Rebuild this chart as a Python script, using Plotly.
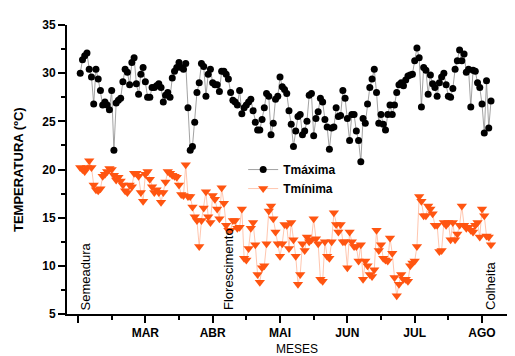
import plotly.graph_objects as go

# Daily temperatures (days after sowing)
tmax = [30.0, 31.4, 31.8, 32.1, 30.4, 29.6, 26.8, 30.4, 29.4, 28.2,
        26.7, 27.0, 26.7, 26.2, 28.2, 22.0, 26.9, 27.2, 27.4, 29.1,
        30.4, 30.1, 28.8, 31.1, 31.6, 28.9, 27.8, 29.9, 30.6, 29.1,
        27.5, 27.5, 28.5, 28.5, 28.7, 28.9, 28.5, 27.0, 27.7, 28.0,
        27.5, 29.5, 30.2, 30.6, 31.1, 30.6, 30.4, 31.0, 26.4, 22.0,
        22.4, 24.9, 28.0, 29.0, 31.0, 30.7, 27.6, 29.9, 30.4, 29.0,
        28.8, 28.8, 28.1, 30.2, 30.2, 29.9, 29.4, 28.0, 27.2, 27.0,
        26.7, 28.2, 25.8, 26.4, 26.7, 27.0, 27.3, 26.1, 24.9, 24.1,
        24.1, 25.2, 26.4, 27.9, 27.6, 23.6, 24.8, 27.3, 27.6, 29.6,
        28.6, 28.3, 27.9, 26.1, 24.7, 22.4, 24.0, 25.5, 25.7, 23.6,
        24.0, 25.0, 27.7, 27.9, 23.5, 25.3, 26.0, 27.4, 27.0, 25.2,
        24.4, 22.1, 24.3, 24.4, 26.4, 25.5, 25.6, 28.2, 27.4, 25.3,
        23.0, 25.7, 25.7, 24.0, 23.0, 20.8, 25.3, 24.8, 26.8, 28.5,
        29.4, 30.4, 28.0, 24.8, 25.7, 24.7, 24.1, 25.7, 26.7, 25.7,
        26.7, 28.0, 28.8, 29.0, 28.7, 29.3, 29.7, 29.8, 29.9, 31.3,
        32.6, 31.6, 26.5, 30.6, 30.3, 27.8, 29.8, 28.9, 28.5, 27.6,
        29.0, 29.6, 30.0, 28.8, 27.6, 27.5, 28.4, 30.4, 31.3, 32.4,
        31.3, 32.0, 30.1, 30.4, 26.5, 30.3, 30.2, 29.0, 28.5, 26.8,
        23.8, 29.2, 24.3, 27.1]

tmin = [20.2, 20.0, 19.8, 20.2, 20.9, 20.2, 18.4, 17.9, 17.8, 18.0,
        19.3, 19.5, 19.8, 20.1, 20.0, 19.4, 18.9, 19.2, 18.8, 18.4,
        17.8, 17.6, 18.4, 18.2, 19.6, 19.6, 19.3, 17.6, 16.7, 19.5,
        19.8, 19.0, 18.2, 17.6, 17.9, 17.6, 16.6, 17.6, 18.7, 19.8,
        19.6, 19.4, 19.3, 19.2, 18.4, 17.4, 17.3, 20.5, 17.2, 17.2,
        16.1, 15.1, 14.7, 12.0, 14.7, 16.0, 17.7, 15.1, 14.5, 17.3,
        16.9, 15.9, 14.9, 18.1, 16.5, 14.2, 13.7, 13.7, 14.7, 14.7,
        13.9, 14.0, 15.9, 10.8, 10.6, 11.8, 13.9, 14.5, 12.2, 9.1,
        8.3, 9.8, 10.0, 12.3, 15.7, 16.2, 14.9, 13.5, 12.3, 11.0,
        12.3, 14.3, 14.2, 11.8, 14.5, 12.7, 11.0, 8.1, 9.1, 12.3,
        11.6, 13.0, 12.5, 12.7, 14.9, 12.8, 12.3, 8.6, 8.4, 12.5,
        11.0, 10.8, 12.5, 15.5, 14.3, 13.5, 14.3, 12.5, 12.5, 9.8,
        13.5, 12.5, 12.0, 12.0, 10.5, 12.2, 8.6, 10.5, 10.0, 9.1,
        8.9, 9.6, 13.7, 11.6, 12.2, 10.8, 10.6, 10.5, 12.9, 11.3,
        8.8, 6.9, 8.1, 9.1, 8.6, 8.6, 8.4, 10.0, 10.3, 10.5,
        12.0, 17.2, 16.7, 15.2, 15.2, 16.2, 15.9, 15.4, 14.2, 14.2,
        11.5, 11.6, 14.5, 14.2, 14.5, 12.7, 14.5, 12.7, 13.3, 14.2,
        16.2, 14.2, 13.9, 14.0, 13.7, 13.5, 14.2, 14.5, 13.0, 15.9,
        15.2, 13.1, 13.0, 12.2]

dias_max = list(range(1, len(tmax) + 1))
dias_min = list(range(1, len(tmin) + 1))

mes_ticks = [0, 30, 60, 90, 120, 150, 180]
mes_labels = ["", "MAR", "ABR", "MAI", "JUN", "JUL", "AGO"]

eventos = ["Semeadura", "Florescimento", "Colheita"]
eventos_dia = [3.3, 66.8, 183.5]

FONT = "Liberation Sans, Arial, sans-serif"

fig = go.Figure()
fig.add_trace(go.Scatter(
    x=dias_max, y=tmax, mode="lines+markers", name="<b>Tmáxima</b>",
    line=dict(color="#8a8a8a", width=0.8),
    marker=dict(symbol="circle", size=7, color="black"),
))
fig.add_trace(go.Scatter(
    x=dias_min, y=tmin, mode="lines+markers", name="<b>Tmínima</b>",
    line=dict(color="#ffb89a", width=0.8),
    marker=dict(symbol="triangle-down", size=9, color="#ff5511"),
))

for txt, d in zip(eventos, eventos_dia):
    fig.add_annotation(x=d, y=5.2, xref="x", yref="y", text=txt,
                       textangle=-90, showarrow=False, xanchor="center",
                       yanchor="bottom", font=dict(family=FONT, size=13, color="black"))

fig.add_annotation(x=-0.13, y=0.5, xref="paper", yref="paper",
                   text="<b>TEMPERATURA (ºC)</b>", textangle=-90, showarrow=False,
                   font=dict(family=FONT, size=13, color="black"))
fig.add_annotation(x=0.515, y=-0.12, xref="paper", yref="paper",
                   text="MESES", showarrow=False, yanchor="middle",
                   font=dict(family=FONT, size=12, color="black"))

fig.update_layout(
    width=515, height=356,
    margin=dict(l=59, r=10, t=10, b=50),
    paper_bgcolor="white", plot_bgcolor="white",
    font=dict(family=FONT, size=12, color="black"),
    showlegend=True,
    legend=dict(x=0.395, y=0.55, xanchor="left", yanchor="top",
                bgcolor="rgba(0,0,0,0)", font=dict(family=FONT, size=12),
                itemsizing="trace", tracegroupgap=0),
)
fig.update_xaxes(range=[-4.9, 193.8], showgrid=False, zeroline=False,
                 showline=True, linecolor="black", linewidth=2,
                 tickmode="array", tickvals=mes_ticks,
                 ticktext=["<b>%s</b>" % t if t else "" for t in mes_labels],
                 ticks="outside", ticklen=7, tickwidth=1.5, tickcolor="black",
                 minor=dict(tickvals=[15, 45, 75, 105, 135, 165], ticks="outside",
                            ticklen=4, tickwidth=1.5, tickcolor="black"),
                 tickfont=dict(family=FONT, size=12, color="black"))
fig.update_yaxes(range=[5, 35], showgrid=False, zeroline=False,
                 showline=True, linecolor="black", linewidth=2,
                 tickmode="array", tickvals=[5, 10, 15, 20, 25, 30, 35],
                 ticktext=["<b>%d</b>" % v for v in [5, 10, 15, 20, 25, 30, 35]],
                 ticks="outside", ticklen=7, tickwidth=1.5, tickcolor="black",
                 minor=dict(tickvals=[7.5, 12.5, 17.5, 22.5, 27.5, 32.5], ticks="outside",
                            ticklen=4, tickwidth=1.5, tickcolor="black"),
                 tickfont=dict(family=FONT, size=12, color="black"))

fig.write_html("out.html")
